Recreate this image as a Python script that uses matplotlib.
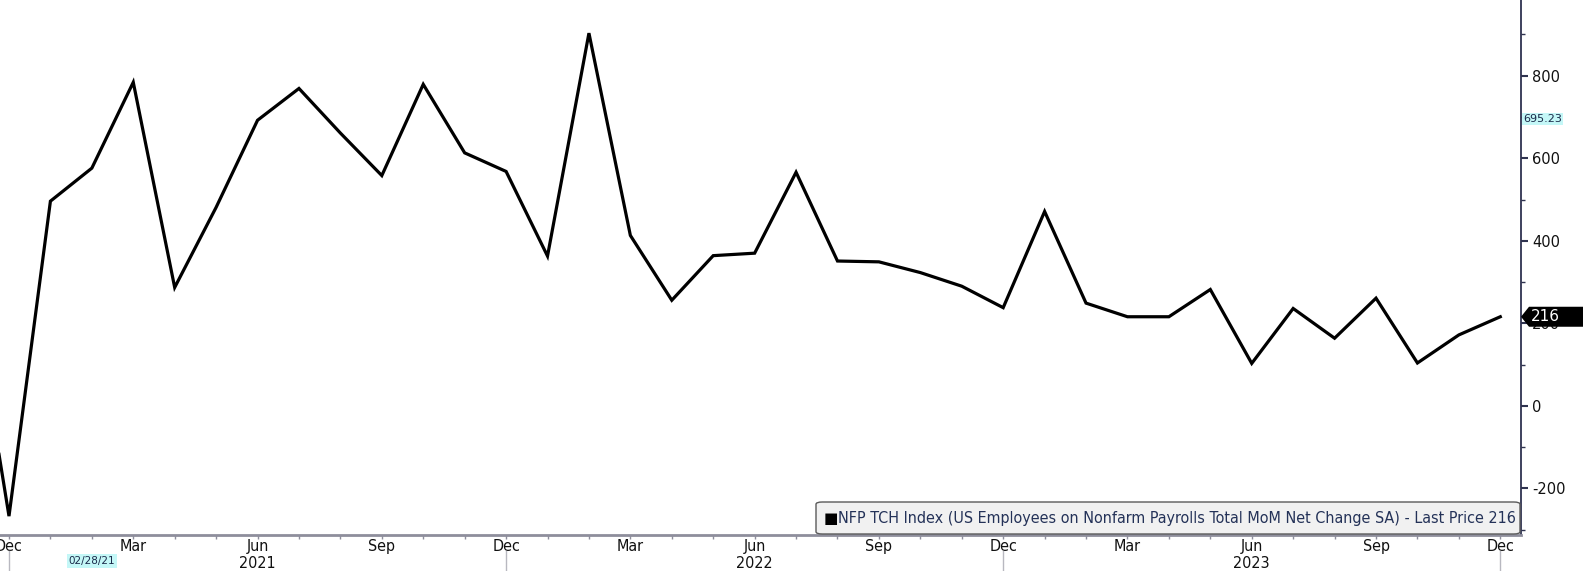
import numpy as np
import matplotlib
matplotlib.use("Agg")
import matplotlib.pyplot as plt
import matplotlib.transforms as mtransforms
from matplotlib import font_manager as fm
from matplotlib.patches import FancyBboxPatch, Polygon
from matplotlib.lines import Line2D

# ---------------- data ----------------
months = ["Nov 2020", "Dec 2020",
          "Jan 2021", "Feb 2021", "Mar 2021", "Apr 2021", "May 2021", "Jun 2021",
          "Jul 2021", "Aug 2021", "Sep 2021", "Oct 2021", "Nov 2021", "Dec 2021",
          "Jan 2022", "Feb 2022", "Mar 2022", "Apr 2022", "May 2022", "Jun 2022",
          "Jul 2022", "Aug 2022", "Sep 2022", "Oct 2022", "Nov 2022", "Dec 2022",
          "Jan 2023", "Feb 2023", "Mar 2023", "Apr 2023", "May 2023", "Jun 2023",
          "Jul 2023", "Aug 2023", "Sep 2023", "Oct 2023", "Nov 2023", "Dec 2023"]
nfp_change = [354, -267,
              496, 576, 784, 287, 481, 692, 769, 661, 558, 779, 613, 568,
              363, 903, 413, 256, 364, 370, 566, 351, 349, 323, 290, 238,
              471, 249, 216, 216, 282, 103, 236, 164, 261, 104, 172, 216]
month_tick_labels = ["Dec", "Mar", "Jun", "Sep", "Dec", "Mar", "Jun", "Sep",
                     "Dec", "Mar", "Jun", "Sep", "Dec"]
year_labels = ["2021", "2022", "2023"]
y_major = [-200, 0, 200, 400, 600, 800]
y_minor = [-300, -100, 100, 300, 500, 700, 900]
last_price = 216
avg_value = 695.23
avg_label = "695.23"
date_label = "02/28/21"
legend_text = ("NFP TCH Index (US Employees on Nonfarm Payrolls Total MoM "
               "Net Change SA) - Last Price 216")

# ---------------- fonts ----------------
cond_fp = fm.FontProperties(family="DejaVu Sans", stretch="condensed")
try:
    cond_path = fm.findfont(cond_fp, fallback_to_default=True)
except Exception:
    cond_path = ""
has_condensed = "ondensed" in cond_path
narrow_kw = dict(family="DejaVu Sans", stretch="condensed") if has_condensed \
    else dict(family="DejaVu Sans")

# ---------------- figure ----------------
W, H = 1583, 571
DPI = 100
fig = plt.figure(figsize=(W / DPI, H / DPI), dpi=DPI, facecolor="white")

def fx(x):
    return x / W

def fy(y_top):
    return 1 - y_top / H

ax_bottom_px = 535
ax_right_px = 1521
ax = fig.add_axes([0, fy(ax_bottom_px), fx(ax_right_px), ax_bottom_px / H])
ax.set_facecolor("white")

x = np.arange(len(nfp_change)) - 1  # Dec 2020 -> 0
ax.plot(x, nfp_change, color="black", lw=2.3, solid_joinstyle="miter", zorder=3)

ax.set_xlim(-0.217, 36.5)
ax.set_ylim(-312.7, 983.3)

for s in ["left", "top"]:
    ax.spines[s].set_visible(False)
ax.spines["right"].set_color("#2f3350")
ax.spines["right"].set_linewidth(1.3)
ax.spines["bottom"].set_color("#8e8e9c")
ax.spines["bottom"].set_linewidth(2.0)

# y axis on right
ax.yaxis.tick_right()
ax.set_yticks(y_major)
ax.set_yticklabels([str(v) for v in y_major])
ax.set_yticks(y_minor, minor=True)
ax.tick_params(axis="y", which="major", direction="out", length=5, width=1.5,
               color="#2f3350", pad=3, labelsize=10.5, labelcolor="#111111")
ax.tick_params(axis="y", which="minor", direction="out", length=3, width=1,
               color="#2f3350")

month_fs = 11.5 if has_condensed else 10.5

# x axis
month_pos = list(range(0, 37, 3))
ax.set_xticks(month_pos)
ax.set_xticklabels(month_tick_labels, **narrow_kw)
ax.set_xticks(range(0, 37), minor=True)
ax.tick_params(axis="x", which="both", direction="out", length=3, width=1,
               color="#8e8e9c", pad=0, labelsize=month_fs, labelcolor="#111111")

blend_x_fig = mtransforms.blended_transform_factory(ax.transData, fig.transFigure)
for xi, lab in zip([6, 18, 30], year_labels):
    fig.text(xi, fy(563), lab, transform=blend_x_fig, ha="center", va="center",
             fontsize=month_fs, color="#111111", **narrow_kw)
for xi in [0, 12, 24, 36]:
    fig.add_artist(Line2D([xi, xi], [0, fy(551)], transform=blend_x_fig,
                          color="#b8b8c0", lw=1))

# date label
fig.text(2, fy(561), date_label, transform=blend_x_fig, ha="center", va="center",
         fontsize=7.5, color="#1a2a4a",
         bbox=dict(boxstyle="square,pad=0.15", fc="#c4f7f7", ec="none"))

# average label
blend_fig_data = mtransforms.blended_transform_factory(fig.transFigure, ax.transData)
fig.text(fx(1523), avg_value, avg_label, transform=blend_fig_data, ha="left",
         va="center", fontsize=8, color="#1a2a4a",
         bbox=dict(boxstyle="square,pad=0.12", fc="#c4f7f7", ec="none"), zorder=5)

# last price tag
fig.canvas.draw()
x0 = ax.transAxes.transform((1, 0))[0]
y0 = ax.transData.transform((0, last_price))[1]
tag = Polygon([(0, 0), (8, 10), (70, 10), (70, -10), (8, -10)], closed=True,
              transform=mtransforms.Affine2D().translate(x0, y0),
              facecolor="black", edgecolor="none", zorder=6)
fig.add_artist(tag)
fig.text(x0 + 10, y0, str(last_price), transform=mtransforms.IdentityTransform(),
         ha="left", va="center", fontsize=11, color="white", zorder=7)

# legend box
box = FancyBboxPatch((fx(816), fy(534)), fx(1520) - fx(816), fy(502) - fy(534),
                     boxstyle="round,pad=0,rounding_size=0.004",
                     transform=fig.transFigure, facecolor="#f1f1f1",
                     edgecolor="#5a5a5a", lw=1, zorder=4)
fig.add_artist(box)
fig.text(fx(824), fy(518.5), "\u25A0", ha="left", va="center", fontsize=11,
         family="DejaVu Sans", color="black", zorder=5)
leg = fig.text(fx(838), fy(518.5), legend_text, ha="left", va="center",
               fontsize=12.5, color="#243258", zorder=5, **narrow_kw)
# fit legend text to the box width
renderer = fig.canvas.get_renderer()
target_w = 1512 - 838
for _ in range(3):
    w = leg.get_window_extent(renderer).width
    leg.set_fontsize(leg.get_fontsize() * target_w / w)

fig.savefig("out.png", dpi=DPI, facecolor="white")
